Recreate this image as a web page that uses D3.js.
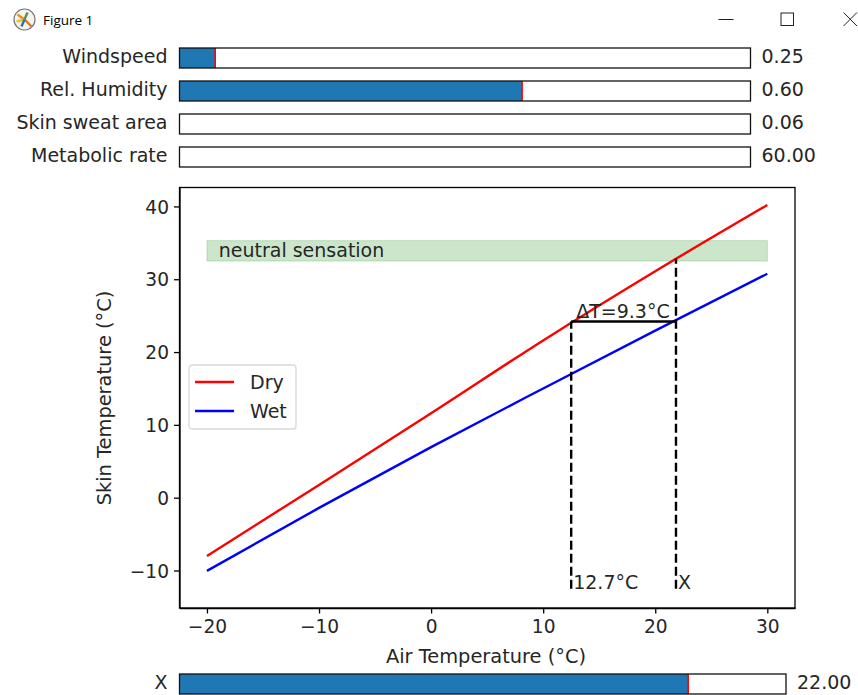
<!DOCTYPE html>
<html>
<head>
<meta charset="utf-8">
<script src="https://cdn.jsdelivr.net/npm/d3@7"></script>
<style>
    html, body { margin: 0; padding: 0; background: #fff; }
    svg { display: block; }
    text { font-family: "DejaVu Sans", sans-serif; font-size: 19px; fill: #262626; }
    .domain, .tick line { stroke: #000; stroke-width: 1.3; }
    .tick text { font-size: 18.6px; fill: #262626; }
    .axis-label { font-size: 19.4px; }
</style>
</head>
<body>
<svg id="chart" width="858" height="695"></svg>
<script>
    // values
    const airTemp = [-20, -10, 0, 10, 20, 30];
    const dryTemp = [-8.0, 1.75, 11.6, 21.6, 31.1, 40.2];
    const wetTemp = [-10.05, -1.4, 6.95, 15.0, 22.95, 30.75];
    const neutralBand = [32.5, 35.3];
    const xTicks = [-20, -10, 0, 10, 20, 30];
    const yTicks = [-10, 0, 10, 20, 30, 40];

    const crossX = [12.5, 21.85];
    const crossTop = [24.2, 32.8];
    const crossBottom = -12.5;
    const crossLabels = ["12.7°C", "X"];
    const deltaLabel = "ΔT=9.3°C";

    const sliderNames = ["Windspeed", "Rel. Humidity", "Skin sweat area", "Metabolic rate"];
    const sliderValues = [0.25, 0.6, 0.06, 60];
    const sliderMin = [0, 0, 0.06, 60];
    const sliderMax = [4, 1, 1, 200];
    const sliderTop = [48, 81, 114, 147];

    const legendNames = ["Dry", "Wet"];
    const legendColors = ["#ff0000", "#0000ff"];

    const svg = d3.select("#chart");
    const minus = s => String(s).replace("-", "\u2212");

    // window title bar
    const titleBar = svg.append("g");
    const icon = titleBar.append("g").attr("transform", "translate(24.5,19.5)");
    icon.append("circle").attr("r", 10.5).attr("fill", "#f4f4f0").attr("stroke", "#777").attr("stroke-width", 1.2);
    [["M0,0L-7,-5", "#f08a24"], ["M0,0L7,7", "#d9772b"], ["M0,0L-8,2", "#f2c230"], ["M0,0L3,-7", "#5b8f4a"], ["M0,0L-3,7", "#3d6d9e"]]
    .forEach(([d, color]) => {
        icon.append("path").attr("d", d).attr("stroke", color).attr("stroke-width", 2.4).attr("fill", "none");
    });
    titleBar.append("text")
        .attr("x", 43).attr("y", 25)
        .style("font-family", '"Open Sans", sans-serif').style("font-size", "13.5px").style("fill", "#000")
        .text("Figure 1");
    titleBar.append("path").attr("d", "M718.5,19.5H733.5").attr("stroke", "#222").attr("fill", "none");
    titleBar.append("rect").attr("x", 781).attr("y", 13).attr("width", 12.5).attr("height", 12.5)
        .attr("stroke", "#222").attr("fill", "none");
    titleBar.append("path").attr("d", "M843.5,12.5L857,26M857,12.5L843.5,26").attr("stroke", "#222").attr("fill", "none");

    // sliders
    const drawSlider = (label, value, min, max, rowTop, x0, x1, height, valueText) => {
        const scale = d3.scaleLinear().domain([min, max]).range([x0, x1]);
        const g = svg.append("g");

        g.append("rect")
            .attr("x", x0).attr("y", rowTop).attr("width", x1 - x0).attr("height", height)
            .attr("fill", "#fff");
        g.append("rect")
            .attr("x", x0).attr("y", rowTop).attr("width", scale(value) - x0).attr("height", height)
            .attr("fill", "#1f77b4");
        g.append("line")
            .attr("x1", scale(value)).attr("x2", scale(value))
            .attr("y1", rowTop).attr("y2", rowTop + height)
            .attr("stroke", "#ff0000").attr("stroke-width", value === min ? 0.8 : 1.6);
        g.append("rect")
            .attr("x", x0).attr("y", rowTop).attr("width", x1 - x0).attr("height", height)
            .attr("fill", "none").attr("stroke", "#111").attr("stroke-width", 1.3);
        g.append("text")
            .attr("x", x0 - 12).attr("y", rowTop + height / 2 + 5)
            .attr("text-anchor", "end").text(label);
        g.append("text")
            .attr("x", x1 + 11).attr("y", rowTop + height / 2 + 5)
            .text(valueText);
    };

    sliderNames.forEach((name, i) => {
        drawSlider(name, sliderValues[i], sliderMin[i], sliderMax[i], sliderTop[i], 179.5, 750.5, 20, sliderValues[i].toFixed(2));
    });
    drawSlider("X", 22, -30, 32, 674, 179.5, 786, 20, "22.00");

    // main axes
    const plotLeft = 179.5, plotRight = 795, plotTop = 187.5, plotBottom = 608;
    const x = d3.scaleLinear().domain([-22.45, 32.47]).range([plotLeft, plotRight]);
    const y = d3.scaleLinear().domain([-15.15, 42.6]).range([plotBottom, plotTop]);

    svg.append("rect")
        .attr("x", x(airTemp[0])).attr("width", x(airTemp[airTemp.length - 1]) - x(airTemp[0]))
        .attr("y", y(neutralBand[1])).attr("height", y(neutralBand[0]) - y(neutralBand[1]))
        .attr("fill", "#008000").attr("fill-opacity", 0.2)
        .attr("stroke", "#008000").attr("stroke-opacity", 0.2);
    svg.append("text")
        .attr("x", x(-18.95)).attr("y", y(33.1))
        .text("neutral sensation");

    const line = d3.line().x((d, i) => x(airTemp[i])).y(d => y(d)).curve(d3.curveMonotoneX);
    [dryTemp, wetTemp].forEach((series, i) => {
        svg.append("path")
            .attr("d", line(series))
            .attr("fill", "none").attr("stroke", legendColors[i]).attr("stroke-width", 2.4);
    });

    crossX.forEach((cx, i) => {
        svg.append("line")
            .attr("x1", x(cx)).attr("x2", x(cx))
            .attr("y1", y(crossBottom)).attr("y2", y(crossTop[i]))
            .attr("stroke", "#000").attr("stroke-width", 2.4).attr("stroke-dasharray", "9,4");
        svg.append("text")
            .attr("x", x(cx) + 2).attr("y", y(crossBottom))
            .text(crossLabels[i]);
    });
    svg.append("line")
        .attr("x1", x(crossX[0])).attr("x2", x(crossX[1]))
        .attr("y1", y(crossTop[0])).attr("y2", y(crossTop[0]))
        .attr("stroke", "#000").attr("stroke-width", 2.4);
    svg.append("text")
        .attr("x", x(crossX[0]) + 5).attr("y", y(crossTop[0]) - 3)
        .text(deltaLabel);

    svg.append("rect")
        .attr("x", plotLeft).attr("y", plotTop).attr("width", plotRight - plotLeft).attr("height", plotBottom - plotTop)
        .attr("fill", "none").attr("stroke", "#000").attr("stroke-width", 1.3);

    svg.append("g")
        .attr("transform", `translate(0,${plotBottom})`)
        .call(d3.axisBottom(x).tickValues(xTicks).tickFormat(minus).tickSizeInner(5.5).tickSizeOuter(0).tickPadding(5))
        .call(g => g.selectAll("text").attr("dy", "0.8em"));
    svg.append("g")
        .attr("transform", `translate(${plotLeft},0)`)
        .call(d3.axisLeft(y).tickValues(yTicks).tickFormat(minus).tickSizeInner(5.5).tickSizeOuter(0).tickPadding(5))
        .call(g => g.selectAll("text").attr("dy", "0.36em"));

    svg.append("text")
        .attr("class", "axis-label")
        .attr("x", 486).attr("y", 663).attr("text-anchor", "middle")
        .text("Air Temperature (°C)");
    svg.append("text")
        .attr("class", "axis-label")
        .attr("transform", "translate(111,398) rotate(-90)").attr("text-anchor", "middle")
        .text("Skin Temperature (°C)");

    // legend
    const legend = svg.append("g").attr("transform", "translate(189,365)");
    legend.append("rect")
        .attr("width", 107).attr("height", 64).attr("rx", 3)
        .attr("fill", "#fff").attr("fill-opacity", 0.8)
        .attr("stroke", "#d9d9d9").attr("stroke-width", 1.3);
    legendNames.forEach((name, i) => {
        const ly = 17 + i * 29;
        legend.append("line")
            .attr("x1", 6).attr("x2", 45).attr("y1", ly).attr("y2", ly)
            .attr("stroke", legendColors[i]).attr("stroke-width", 2.4);
        legend.append("text").attr("x", 61).attr("y", ly + 7).text(name);
    });
</script>
</body>
</html>
